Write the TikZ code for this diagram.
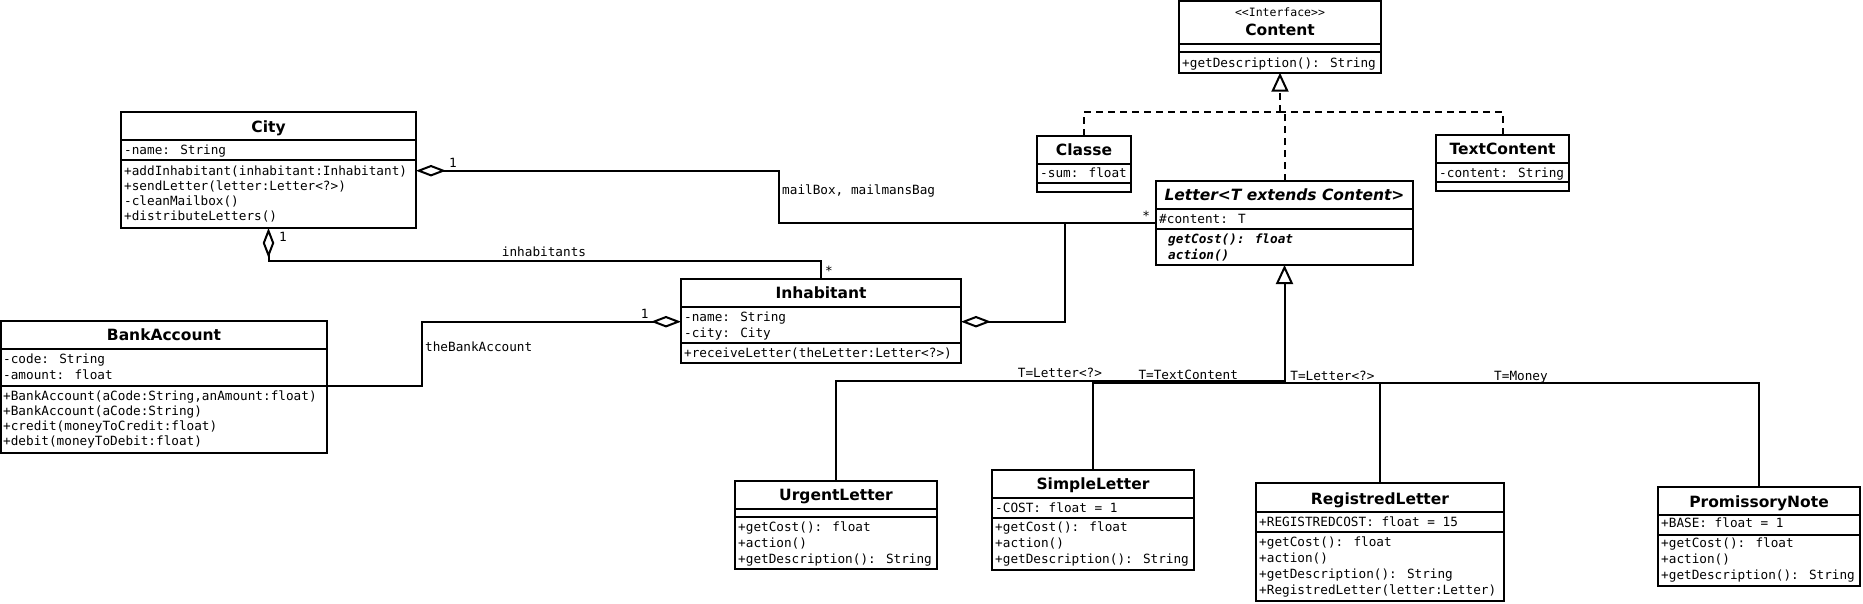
\documentclass[tikz,border=0pt]{standalone}
\usepackage{fontspec}
\usetikzlibrary{arrows.meta}
\newfontfamily\sansf{DejaVu Sans}
\newfontfamily\monof{DejaVu Sans Mono}
\tikzset{
  umlbox/.style={draw, line width=2pt, inner sep=0pt, outer sep=0pt, anchor=north west},
  sepline/.style={line width=2pt},
  ttl/.style={font=\sansf\bfseries\fontsize{15.5}{18}\selectfont, anchor=base, inner sep=0pt},
  mem/.style={font=\monof\fontsize{12.7}{15}\selectfont, anchor=base west, inner sep=0pt},
  memabs/.style={font=\monof\bfseries\itshape\fontsize{12.7}{15}\selectfont, anchor=base west, inner sep=0pt},
  lbl/.style={font=\monof\fontsize{12.7}{15}\selectfont, anchor=base west, inner sep=0pt},
  conn/.style={line width=2pt},
  realiz/.style={conn, dash pattern=on 7pt off 5pt},
  aggr/.style={conn, {Diamond[open, length=30pt, width=11.5pt]}-},
  gentip/.style={-{Triangle[open, length=19pt, width=17pt]}},
}
\newcommand\umlclass[7]{% name, l, t, r, b, line1, line2
  \node[umlbox, minimum width={(#4)-(#2)}, minimum height={(#5)-(#3)}] (#1) at (#2,#3) {};
  \draw[sepline] (#2,#6) -- (#4,#6);
  \draw[sepline] (#2,#7) -- (#4,#7);
}
\newcommand\members[5]{% prefix, x, first baseline, spacing, list
  \foreach \t [count=\i] in {#5} {\node[mem] (#1-\i) at (#2, {#3+(\i-1)*#4}) {\t};}
}
\begin{document}
\begin{tikzpicture}[x=1pt, y=-1pt]
\useasboundingbox (0,0) rectangle (1863,603);

% ---------- Content ----------
\umlclass{Content}{1179}{1}{1381}{72.7}{44.3}{52.3}
\node[font=\monof\fontsize{11.5}{13}\selectfont, anchor=base, inner sep=0pt] (content-st) at (1280,16.8) {<<Interface>>};
\node[ttl] (content-t) at (1280,35.5) {Content};
\members{content-m}{1182}{67}{15.3}{+getDescription(): String}

% ---------- Classe ----------
\umlclass{Classe}{1037}{135.7}{1131}{192}{164}{182.7}
\node[ttl] (classe-t) at (1084,155) {Classe};
\members{classe-a}{1040}{177.5}{15.3}{-sum: float}

% ---------- TextContent ----------
\umlclass{TextContent}{1436}{134.7}{1569}{190.7}{163}{182}
\node[ttl] (textcontent-t) at (1502.5,154) {TextContent};
\members{textcontent-a}{1439}{177}{15.3}{-content: String}

% ---------- Letter ----------
\umlclass{Letter}{1156}{181}{1413}{265}{209.3}{229.3}
\node[ttl, font=\sansf\bfseries\itshape\fontsize{15.5}{18}\selectfont] (letter-t) at (1284.5,200) {Letter<T extends Content>};
\members{letter-a}{1159}{223.4}{15.3}{\#content: T}
\node[memabs] (letter-m-1) at (1168,243) {getCost(): float};
\node[memabs] (letter-m-2) at (1168,259) {action()};

% ---------- City ----------
\umlclass{City}{121}{112}{416}{228}{140}{160}
\node[ttl] (city-t) at (268.5,132.6) {City};
\members{city-a}{124}{154.5}{15.3}{-name: String}
\members{city-m}{124}{175}{15.33}{+addInhabitant(inhabitant:Inhabitant), +sendLetter(letter:Letter<?>), -cleanMailbox(), +distributeLetters()}

% ---------- BankAccount ----------
\umlclass{BankAccount}{1}{321}{327}{452.7}{349.3}{386.3}
\node[ttl] (bank-t) at (164,340.6) {BankAccount};
\members{bank-a}{3}{363.7}{15.3}{-code: String, -amount: float}
\members{bank-m}{3}{400.4}{15.1}{{+BankAccount(aCode:String,anAmount:float)}, +BankAccount(aCode:String), +credit(moneyToCredit:float), +debit(moneyToDebit:float)}

% ---------- Inhabitant ----------
\umlclass{Inhabitant}{681}{279}{961}{362.7}{307.3}{342.7}
\node[ttl] (inhabitant-t) at (821,298.3) {Inhabitant};
\members{inhabitant-a}{684}{321}{16}{-name: String, -city: City}
\members{inhabitant-m}{684}{357}{16}{+receiveLetter(theLetter:Letter<?>)}

% ---------- UrgentLetter ----------
\umlclass{UrgentLetter}{735}{481}{937}{568.7}{509}{516.7}
\node[ttl] (urgent-t) at (836,500.6) {UrgentLetter};
\members{urgent-m}{738}{531}{16}{+getCost(): float, +action(), +getDescription(): String}

% ---------- SimpleLetter ----------
\umlclass{SimpleLetter}{992}{470}{1194}{569.7}{497.7}{518.3}
\node[ttl] (simple-t) at (1093,489) {SimpleLetter};
\members{simple-a}{995}{512}{16}{-COST: float = 1}
\members{simple-m}{995}{531.7}{16}{+getCost(): float, +action(), +getDescription(): String}

% ---------- RegistredLetter ----------
\umlclass{RegistredLetter}{1256}{483.3}{1504}{601}{512.3}{531.7}
\node[ttl] (registred-t) at (1380,504) {RegistredLetter};
\members{registred-a}{1259}{526.4}{16}{+REGISTREDCOST: float = 15}
\members{registred-m}{1259}{546}{16.1}{+getCost(): float, +action(), +getDescription(): String, +RegistredLetter(letter:Letter)}

% ---------- PromissoryNote ----------
\umlclass{PromissoryNote}{1658}{487.3}{1860}{585.7}{515}{535}
\node[ttl] (promissory-t) at (1759,507.4) {PromissoryNote};
\members{promissory-a}{1661}{527.7}{16}{+BASE: float = 1}
\members{promissory-m}{1661}{547.7}{16}{+getCost(): float, +action(), +getDescription(): String}

% ---------- aggregations ----------
\draw[aggr] (City.east |- 0,170.7) -| (778.9,222.7) -- (Letter.west |- 0,222.7);
\node[lbl, anchor=base] (l-city-1) at (453,167) {1};
\node[lbl] (l-mailbox) at (782,194.4) {mailBox, mailmansBag};
\node[lbl, anchor=base] (l-letter-star) at (1146.3,220.5) {*};

\draw[aggr] (City.south) -- (City.south |- 0,260.7) -| (Inhabitant.north);
\node[lbl, anchor=base] (l-city-2) at (283,241) {1};
\node[lbl, anchor=base] (l-inhabitants) at (544,256.8) {inhabitants};
\node[lbl, anchor=base] (l-inh-star) at (829,275) {*};

\draw[aggr] (Inhabitant.west |- 0,321.7) -- (422.3,321.7) |- (BankAccount.east |- 0,386.3);
\node[lbl, anchor=base] (l-inh-1) at (644.6,318.5) {1};
\node[lbl] (l-bank) at (425,351) {theBankAccount};

\draw[aggr] (Inhabitant.east |- 0,321.7) -| (1065,222.7);

% ---------- realizations ----------
\coordinate (rj) at (1280,111.7);
\draw[realiz] (Classe.north) |- (rj);
\draw[realiz] (TextContent.north) |- (rj);
\draw[realiz] (Letter.north) |- (rj);
\draw[realiz, gentip] (rj) -- (Content.south);

% ---------- generalizations ----------
\coordinate (gj) at (1284.5,381.5);
\draw[conn] (UrgentLetter.north) |- (gj |- 0,380.5);
\draw[conn] (SimpleLetter.north) |- (gj |- 0,382.7);
\draw[conn] (RegistredLetter.north) |- (gj |- 0,383.2);
\draw[conn] (PromissoryNote.north) |- (gj |- 0,383.2);
\draw[conn, gentip] (gj) -- (Letter.south);
\node[lbl] (l-t1) at (1017.7,377.5) {T=Letter<?>};
\node[lbl] (l-t2) at (1138.3,379) {T=TextContent};
\node[lbl] (l-t3) at (1290.2,380) {T=Letter<?>};
\node[lbl] (l-t4) at (1494,380) {T=Money};
\end{tikzpicture}
\end{document}
